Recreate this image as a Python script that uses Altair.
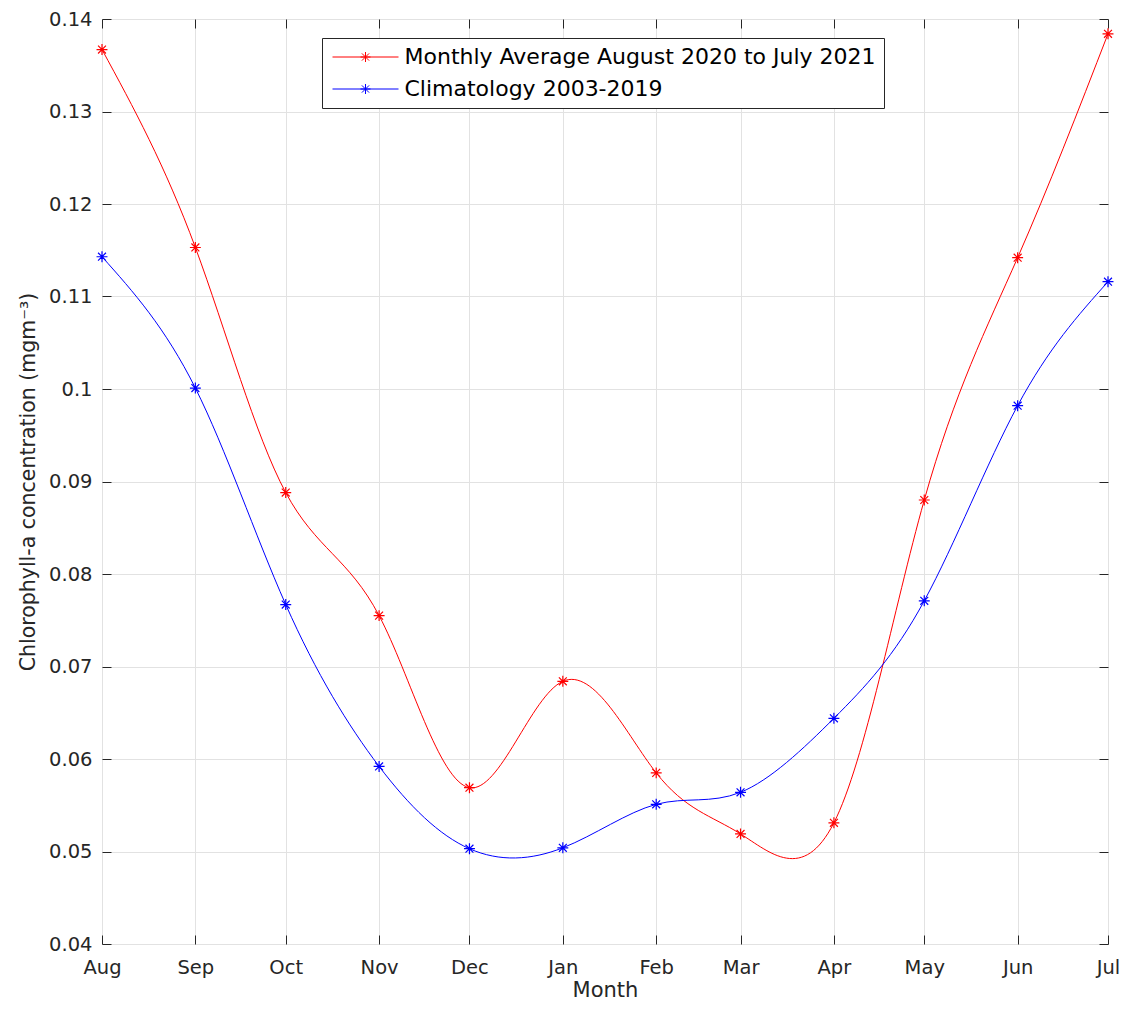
import altair as alt
import pandas as pd

# ---- data ----
month_dates = ["2020-08-01", "2020-09-01", "2020-10-01", "2020-11-01", "2020-12-01",
               "2021-01-01", "2021-02-01", "2021-03-01", "2021-04-01", "2021-05-01",
               "2021-06-01", "2021-07-01"]
monthly_2020_2021 = [0.1367, 0.1153, 0.0888, 0.0755, 0.0569, 0.0684,
                     0.0585, 0.0519, 0.0531, 0.0880, 0.1142, 0.1384]
climatology = [0.1143, 0.1001, 0.0767, 0.0592, 0.0503, 0.0504,
               0.0551, 0.0564, 0.0644, 0.0771, 0.0982, 0.1116]
series_names = ["Monthly Average August 2020 to July 2021", "Climatology 2003-2019"]
series_colors = ["#ff0000", "#0000ff"]
y_ticks = [0.04, 0.05, 0.06, 0.07, 0.08, 0.09, 0.10, 0.11, 0.12, 0.13, 0.14]

rows = []
for d, v in zip(month_dates, monthly_2020_2021):
    rows.append({"date": d, "value": v, "series": series_names[0]})
for d, v in zip(month_dates, climatology):
    rows.append({"date": d, "value": v, "series": series_names[1]})
df = pd.DataFrame(rows)

def dt(s):
    y, m, d = (int(p) for p in s.split("-"))
    return alt.DateTime(year=y, month=m, date=d, utc=True)

tick_dates = [dt(s) for s in month_dates]

W, H = 1006, 925
FONT = "DejaVu Sans"
DARK = "#262626"
GRID = "#e2e2e2"

xscale = alt.Scale(type="utc", domain=[dt(month_dates[0]), dt(month_dates[-1])], nice=False)
yscale = alt.Scale(domain=[0.04, 0.14], nice=False, zero=False)
cscale = alt.Scale(domain=series_names, range=series_colors)

asterisk = "M-1,0L1,0M0,-1L0,1M-0.72,-0.72L0.72,0.72M-0.72,0.72L0.72,-0.72"
legend_symbol = ("M-6.6,0L6.6,0M-1,0L1,0M0,-1L0,1M-0.72,-0.72L0.72,0.72M-0.72,0.72L0.72,-0.72")

legend = alt.Legend(
    title=None, orient="none", legendX=220, legendY=19,
    symbolType=legend_symbol, symbolSize=100, symbolStrokeWidth=1,
    symbolOffset=24.5, labelOffset=28, labelLimit=0,
    labelFont=FONT, labelFontSize=22, labelColor="#000000",
    padding=8, rowPadding=10, strokeColor=DARK, fillColor="#ffffff",
    cornerRadius=0,
)

x_main = alt.Axis(title="Month", values=tick_dates, format="%b", grid=True, gridColor=GRID,
                  ticks=False, tickSize=0, domain=False, labelPadding=14, labelFontSize=19.5,
                  labelFont=FONT, labelColor=DARK, titleFont=FONT, titleFontSize=21,
                  titleFontWeight="normal", titleColor=DARK, titlePadding=3, labelFlush=False)
y_main = alt.Axis(title="Chlorophyll-a concentration (mgm⁻³)", values=y_ticks, format=".2~f",
                  grid=True, gridColor=GRID, ticks=False, tickSize=0, domain=False,
                  labelPadding=10, labelFontSize=19.5, labelFont=FONT, labelColor=DARK,
                  titleFont=FONT, titleFontSize=20.5, titleFontWeight="normal",
                  titleColor=DARK, titlePadding=10, labelFlush=False)

def tick_axis(orient, values):
    return alt.Axis(orient=orient, values=values, offset=-9, tickSize=9, ticks=True,
                    tickColor=DARK, tickWidth=1, labels=False, grid=False,
                    domain=False, title=None)

base = alt.Chart(df)

lines = base.mark_line(interpolate="natural", strokeWidth=1).encode(
    x=alt.X("date:T", scale=xscale, axis=x_main),
    y=alt.Y("value:Q", scale=yscale, axis=y_main),
    color=alt.Color("series:N", scale=cscale, legend=legend),
)

points = base.mark_point(shape=asterisk, filled=False, size=120, strokeWidth=1.2, opacity=1).encode(
    x=alt.X("date:T", scale=xscale, axis=tick_axis("top", tick_dates)),
    y=alt.Y("value:Q", scale=yscale, axis=tick_axis("right", y_ticks)),
    color=alt.Color("series:N", scale=cscale, legend=legend),
)

ghost = base.mark_point(opacity=0).encode(
    x=alt.X("date:T", scale=xscale, axis=tick_axis("bottom", tick_dates)),
    y=alt.Y("value:Q", scale=yscale, axis=tick_axis("left", y_ticks)),
)

chart = alt.layer(lines, points, ghost).resolve_axis(
    x="independent", y="independent"
).properties(
    width=W, height=H,
    autosize=alt.AutoSizeParams(type="none"),
    padding={"left": 94, "top": 11, "right": 15, "bottom": 58},
).configure_view(
    stroke=DARK, strokeWidth=1
).configure(
    font=FONT, background="#ffffff"
)

chart.save("out.html", embed_options={"renderer": "svg", "actions": False})
